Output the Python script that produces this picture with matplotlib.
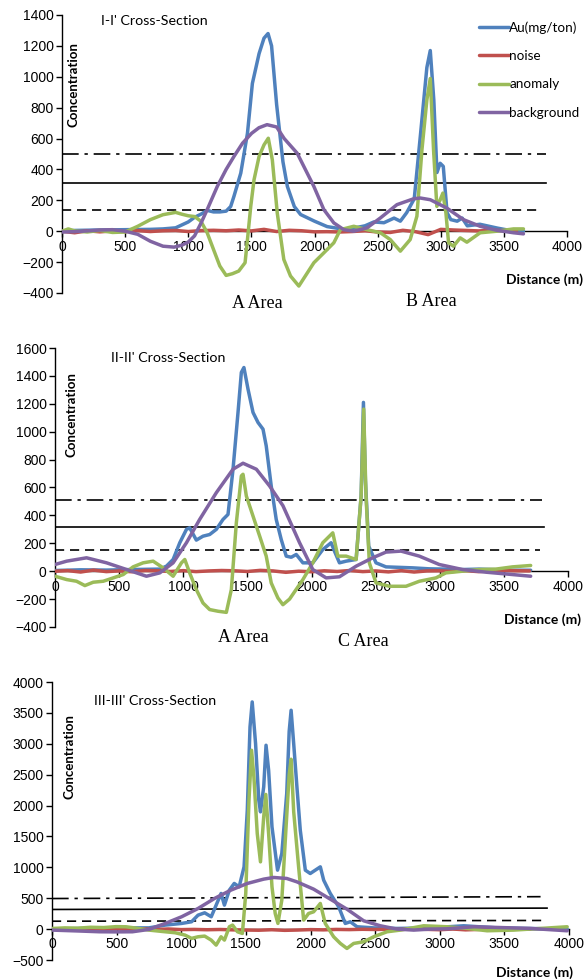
import matplotlib
matplotlib.use('Agg')
import matplotlib.pyplot as plt
import numpy as np

plt.rcParams['font.family'] = ['Liberation Sans', 'DejaVu Sans']

W, H = 586, 980

# ---------------- Section I-I' ----------------
p1_au_x = [0, 100, 300, 500, 700, 800, 900, 1000, 1050, 1100, 1150, 1200, 1250, 1300, 1336, 1362,
           1416, 1469, 1508, 1561, 1600, 1632, 1660, 1700, 1750, 1785, 1840, 1890, 2000, 2100, 2250,
           2400, 2470, 2550, 2630, 2680, 2730, 2790, 2840, 2890, 2917, 2945, 2970, 2995, 3020, 3050,
           3080, 3130, 3170, 3210, 3310, 3450, 3580, 3655]
p1_au_y = [0, 5, 8, 10, 12, 15, 22, 60, 90, 110, 135, 125, 125, 130, 160, 226,
           376, 634, 957, 1150, 1250, 1280, 1200, 820, 450, 290, 160, 108, 65, 30, 10,
           35, 60, 55, 85, 65, 120, 210, 630, 1060, 1170, 850, 380, 440, 420, 120,
           75, 65, 85, 35, 45, 20, 0, 0]

p1_an_x = [0, 50, 100, 200, 300, 400, 500, 600, 700, 800, 900, 950, 1000, 1050, 1100, 1150, 1200,
           1250, 1300, 1350, 1400, 1450, 1469, 1495, 1521, 1561, 1600, 1634, 1666, 1705, 1757, 1810,
           1876, 1995, 2074, 2153, 2205, 2311, 2416, 2522, 2600, 2680, 2758, 2811, 2851, 2890, 2917,
           2943, 2969, 2996, 3017, 3041, 3062, 3101, 3154, 3207, 3312, 3444, 3576, 3655]
p1_an_y = [0, 15, 2, -5, 5, -8, -5, 32, 75, 107, 122, 110, 100, 95, 65, -10, -118,
           -225, -286, -275, -258, -204, -54, 161, 333, 484, 559, 602, 462, 118, -183, -290,
           -355, -204, -140, -75, 10, 32, 10, -10, -54, -129, -54, 97, 527, 850, 989,
           527, 161, 204, 247, 118, -75, -97, -43, -71, -10, 0, 15, 15]

p1_bg_x = [0, 100, 200, 300, 400, 500, 600, 700, 800, 888, 950, 1000, 1050, 1102, 1150, 1230, 1300,
           1362, 1430, 1502, 1560, 1624, 1700, 1760, 1863, 1995, 2074, 2153, 2232, 2311, 2416, 2522,
           2653, 2785, 2838, 2917, 3048, 3180, 3312, 3444, 3576, 3655]
p1_bg_y = [-5, -3, 2, 8, 10, 0, -20, -65, -97, -103, -90, -70, -30, 54, 140, 290, 400,
           484, 570, 634, 670, 690, 675, 600, 505, 290, 140, 54, 10, 0, 22, 86,
           172, 210, 215, 204, 150, 75, 32, 6, -10, -17]

p1_noise_x = np.arange(0, 3700, 100)
p1_noise_y = [0, -10, 3, -4, 2, -3, 4, -2, 3, 5, -2, 4, 6, 3, 8, 2, 12, -2, 6,
              3, -4, -3, -5, -2, 3, -5, -8, 6, -3, -22, 12, 8, 5, 2, 6, 4, 2]

# ---------------- Section II-II' ----------------
p2_au_x = [0, 200, 400, 600, 817, 869, 921, 973, 1025, 1050, 1102, 1154, 1206, 1258, 1310, 1349,
           1388, 1427, 1453, 1473, 1505, 1544, 1583, 1622, 1647, 1686, 1725, 1764, 1803, 1842, 1881,
           1933, 2010, 2088, 2153, 2179, 2218, 2270, 2348, 2387, 2405, 2420, 2446, 2503, 2581, 2789,
           2918, 3048, 3178, 3307, 3567, 3709]
p2_au_y = [5, 10, 8, 12, 15, 36, 84, 204, 300, 311, 223, 251, 263, 300, 371, 407,
           730, 1138, 1425, 1460, 1305, 1138, 1066, 1018, 898, 611, 371, 227, 108, 100, 120,
           60, 60, 155, 204, 144, 60, 72, 84, 539, 1210, 659, 180, 60, 31, 24,
           17, 15, 12, 15, 7, 7]

p2_an_x = [0, 91, 168, 233, 298, 376, 454, 532, 609, 687, 765, 843, 921, 986, 1012, 1050, 1102,
           1154, 1206, 1271, 1336, 1375, 1414, 1453, 1466, 1492, 1544, 1596, 1647, 1686, 1738, 1777,
           1829, 1881, 1933, 2010, 2088, 2166, 2205, 2270, 2348, 2387, 2407, 2425, 2451, 2503, 2607,
           2737, 2841, 2970, 3048, 3178, 3307, 3437, 3567, 3709]
p2_an_y = [-36, -60, -72, -103, -79, -72, -48, -24, 31, 60, 72, 24, -36, 60, 84, -12, -132,
           -228, -275, -287, -295, -132, 347, 683, 695, 539, 395, 251, 108, -84, -192, -240,
           -200, -130, -60, 60, 204, 275, 108, 108, 84, 539, 1162, 539, 60, -84, -108,
           -108, -72, -48, -12, 0, 12, 15, 31, 41]

p2_bg_x = [0, 91, 246, 402, 558, 713, 817, 921, 1025, 1128, 1258, 1388, 1466, 1570, 1673, 1777,
           1907, 2010, 2114, 2218, 2348, 2477, 2581, 2698, 2841, 2996, 3178, 3359, 3567, 3709]
p2_bg_y = [48, 72, 96, 60, 12, -36, -12, 60, 204, 371, 563, 731, 774, 731, 611, 470,
           204, 12, -48, -40, 36, 96, 137, 144, 108, 48, 12, -7, -24, -36]

p2_noise_x = np.arange(0, 3800, 100)
p2_noise_y = [0, 4, -6, 8, -3, 2, -4, 5, 3, -2, 4, -3, 2, 5, 3, -2, 6, 2, -8, 0,
              -4, 3, -2, 5, -3, 2, -5, 4, -6, 2, 3, -2, 4, -3, 2, 5, 3, 2]

# ---------------- Section III-III' ----------------
p3_au_x = [0, 200, 400, 600, 750, 876, 1003, 1080, 1130, 1181, 1232, 1270, 1308, 1334, 1372, 1410,
           1448, 1486, 1511, 1532, 1549, 1575, 1600, 1613, 1638, 1656, 1676, 1702, 1745, 1778, 1816,
           1835, 1850, 1870, 1895, 1921, 1960, 1998, 2037, 2076, 2102, 2153, 2218, 2269, 2308, 2360,
           2489, 2670, 2928, 3186, 3444, 3702, 3986]
p3_au_y = [0, 10, 15, 20, 20, 65, 92, 119, 226, 264, 200, 388, 577, 388, 631, 739,
           685, 1008, 1925, 3272, 3677, 3003, 2086, 1898, 2302, 2976, 2571, 1655, 954, 1224, 2194,
           3200, 3542, 3000, 2300, 1600, 954, 900, 954, 1008, 792, 577, 361, 92, 119, 38,
           20, 11, 20, 54, 20, 10, 0]

p3_an_x = [0, 100, 200, 300, 400, 495, 572, 673, 750, 876, 953, 1029, 1080, 1130, 1181, 1232, 1270,
           1308, 1334, 1372, 1397, 1435, 1473, 1499, 1524, 1544, 1562, 1588, 1613, 1638, 1654, 1676,
           1702, 1727, 1748, 1778, 1811, 1835, 1850, 1870, 1908, 1947, 1985, 2024, 2076, 2114, 2179,
           2231, 2282, 2334, 2411, 2489, 2592, 2695, 2876, 3057, 3212, 3367, 3573, 3780, 3986]
p3_an_y = [10, 20, 15, 30, 25, 40, 38, 10, -16, -43, -59, -97, -150, -124, -113, -178, -259,
           -124, -178, 38, 65, -43, -70, 577, 2086, 2895, 2464, 1547, 1089, 1817, 2180, 1547,
           685, 253, 92, 469, 1655, 2500, 2750, 1900, 1008, 146, 253, 280, 415, 92, -124,
           -232, -313, -232, -205, -124, -43, -16, 54, 38, 11, -27, -16, 11, 38]

p3_bg_x = [0, 200, 368, 500, 622, 750, 876, 1003, 1130, 1257, 1384, 1511, 1638, 1715, 1816, 1895,
           2024, 2153, 2282, 2411, 2540, 2670, 2799, 2928, 3057, 3264, 3444, 3702, 3986]
p3_bg_y = [-16, -30, -43, -45, -43, -5, 92, 200, 334, 496, 631, 739, 809, 836, 820, 765,
           647, 485, 323, 135, 54, 0, -16, 0, 5, 38, 27, 11, -27]

p3_noise_x = np.arange(0, 3800, 100)
p3_noise_y = [0, 5, -4, 6, -3, 4, -5, 3, -6, 2, -8, -5, -10, -6, -12, -15, -18, -10, -20, -15,
              -8, -12, -5, -8, -3, -6, -2, -5, 3, -4, -10, 2, -12, -5, 3, -2, 4, 2]

# thresholds: (start value, end value, end distance)
p1_thr = {'dashdot': (500, 500, 3830), 'solid': (310, 310, 3830), 'dashed': (140, 140, 3800)}
p2_thr = {'dashdot': (510, 510, 3800), 'solid': (320, 320, 3810), 'dashed': (150, 150, 3780)}
p3_thr = {'dashdot': (495, 525, 3780), 'solid': (318, 340, 3830), 'dashed': (128, 140, 3790)}

series_names = ['Au(mg/ton)', 'noise', 'anomaly', 'background']
colors = ['#4F81BD', '#C0504D', '#9BBB59', '#8064A2']

thr_styles = {'dashdot': (0, (10, 3.5, 2, 3.5)), 'solid': '-', 'dashed': (0, (5.5, 3.5))}


def fx(x):
    return x / W


def fy(y):
    return 1 - y / H


def draw_panel(ax, au, noise, an, bg, thr, ylim, yticks):
    lines = []
    for (xs, ys), c in zip([au, noise, an, bg], colors):
        ln, = ax.plot(xs, ys, color=c, lw=2.5, solid_joinstyle='round', solid_capstyle='round',
                      zorder=3)
        lines.append(ln)
    for key, (v0, v1, xend) in thr.items():
        ax.plot([0, xend], [v0, v1], color='black', lw=1.2, linestyle=thr_styles[key], zorder=2)
    ax.set_xlim(0, 4000)
    ax.set_ylim(*ylim)
    ax.set_yticks(yticks)
    ax.set_xticks(np.arange(0, 4001, 500))
    ax.spines['top'].set_visible(False)
    ax.spines['right'].set_visible(False)
    ax.spines['bottom'].set_position(('data', 0))
    ax.spines['left'].set_linewidth(1.0)
    ax.spines['bottom'].set_linewidth(1.0)
    ax.tick_params(axis='both', direction='out', length=4, width=1, labelsize=10, pad=2)
    ax.patch.set_alpha(0)
    return lines


fig = plt.figure(figsize=(W / 100, H / 100), dpi=100)

ax1 = fig.add_axes([fx(62), fy(293), fx(567 - 62), (293 - 15) / H])
ax2 = fig.add_axes([fx(55), fy(627), fx(568 - 55), (627 - 348) / H])
ax3 = fig.add_axes([fx(52), fy(960), fx(569 - 52), (960 - 682) / H])

lines = draw_panel(ax1, (p1_au_x, p1_au_y), (p1_noise_x, p1_noise_y), (p1_an_x, p1_an_y),
                   (p1_bg_x, p1_bg_y), p1_thr, (-400, 1400), np.arange(-400, 1401, 200))
draw_panel(ax2, (p2_au_x, p2_au_y), (p2_noise_x, p2_noise_y), (p2_an_x, p2_an_y),
           (p2_bg_x, p2_bg_y), p2_thr, (-400, 1600), np.arange(-400, 1601, 200))
draw_panel(ax3, (p3_au_x, p3_au_y), (p3_noise_x, p3_noise_y), (p3_an_x, p3_an_y),
           (p3_bg_x, p3_bg_y), p3_thr, (-500, 4000), np.arange(-500, 4001, 500))

fig.legend(lines, series_names, loc='upper left', bbox_to_anchor=(fx(479), fy(21)),
           frameon=False, handlelength=2.2, handletextpad=0.05, borderpad=0,
           borderaxespad=0, labelspacing=1.22,
           prop={'family': ['Lato', 'DejaVu Sans'], 'size': 9.7})

# labels
titles = [("I-I' Cross-Section", 154, 21), ("II-II' Cross-Section", 168, 358),
          ("III-III' Cross-Section", 155, 701)]
for t, x, y in titles:
    fig.text(fx(x), fy(y), t, ha='center', va='center', fontsize=10.3,
             family=['Lato', 'DejaVu Sans'])

for x, y in [(73, 85), (72, 415), (70, 757)]:
    fig.text(fx(x), fy(y), 'Concentration', rotation=90, ha='center', va='center',
             fontsize=9.5, fontweight='bold', family=['Lato', 'DejaVu Sans'])

for x, y in [(545, 280), (542, 620), (534, 973)]:
    fig.text(fx(x), fy(y), 'Distance (m)', ha='center', va='center', fontsize=10,
             fontweight='bold', family=['Lato', 'DejaVu Sans'])

for t, x, y in [('A Area', 257, 304), ('B Area', 431, 302), ('A Area', 243, 637),
                ('C Area', 363, 642)]:
    fig.text(fx(x), fy(y), t, ha='center', va='center', fontsize=13,
             family=['Liberation Serif', 'DejaVu Serif'])

fig.savefig('out.png', dpi=100)
